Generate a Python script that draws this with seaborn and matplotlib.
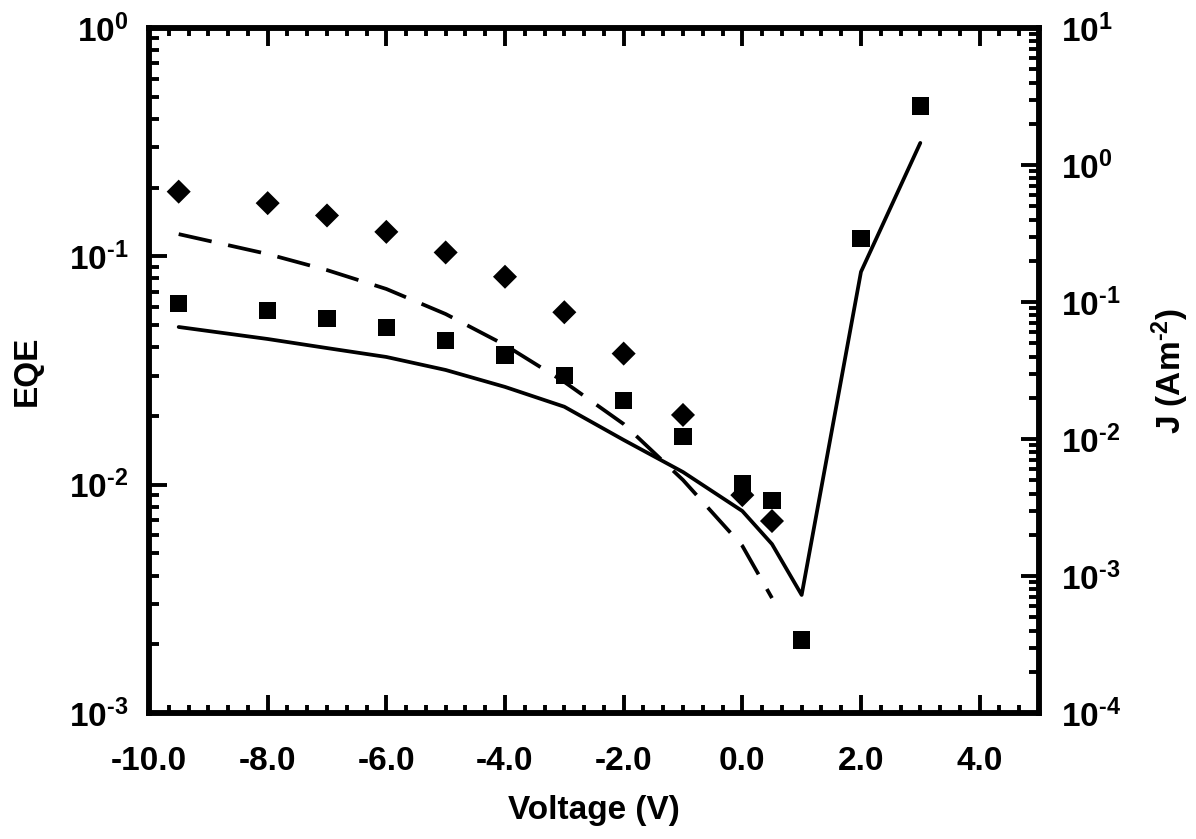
import numpy as np
import pandas as pd
import matplotlib
matplotlib.use("Agg")
import matplotlib.pyplot as plt
import matplotlib.ticker as mticker
import seaborn as sns

# ---- data ----
voltage_sq = [-9.5, -8, -7, -6, -5, -4, -3, -2, -1, 0, 0.5, 1, 2, 3]
eqe_sq = [0.0623, 0.0578, 0.0535, 0.0489, 0.0427, 0.0370, 0.0300, 0.0233,
          0.0162, 0.0101, 0.0085, 0.00209, 0.120, 0.455]

voltage_dia = [-9.5, -8, -7, -6, -5, -4, -3, -2, -1, 0, 0.5]
eqe_dia = [0.192, 0.171, 0.151, 0.128, 0.104, 0.0814, 0.0569, 0.0375,
           0.0202, 0.0090, 0.00693]

voltage_solid = [-9.5, -8, -7, -6, -5, -4, -3, -2, -1, 0, 0.5, 1, 2, 3]
j_solid = [0.0657, 0.0537, 0.0461, 0.0397, 0.0319, 0.0240, 0.0172, 0.00984,
           0.00574, 0.00298, 0.00171, 0.000727, 0.166, 1.45]

voltage_dash = [-9.5, -8, -7, -6, -5, -4, -3, -2, -1, 0, 0.5]
j_dash = [0.313, 0.224, 0.171, 0.1245, 0.0817, 0.0485, 0.0261, 0.01286,
          0.00502, 0.00166, 0.00069]

x_ticks = [-10, -8, -6, -4, -2, 0, 2, 4]

# ---- style ----
sns.set_theme(style="white")
plt.rcParams["font.family"] = ["Liberation Sans", "DejaVu Sans"]
plt.rcParams["font.weight"] = "bold"
plt.rcParams["mathtext.fontset"] = "custom"
plt.rcParams["mathtext.rm"] = "Liberation Sans:bold"
plt.rcParams["mathtext.bf"] = "Liberation Sans:bold"
plt.rcParams["mathtext.it"] = "Liberation Sans:bold"
plt.rcParams["axes.unicode_minus"] = False
plt.rcParams["text.color"] = "black"
plt.rcParams["axes.labelcolor"] = "black"
plt.rcParams["xtick.color"] = "black"
plt.rcParams["ytick.color"] = "black"

FS = 24

fig = plt.figure(figsize=(11.96, 8.39), dpi=100)
ax = fig.add_axes([0.1246, 0.1502, 0.7441, 0.8164])
ax2 = ax.twinx()

sq_df = pd.DataFrame({"V": voltage_sq, "EQE": eqe_sq})
dia_df = pd.DataFrame({"V": voltage_dia, "EQE": eqe_dia})
sol_df = pd.DataFrame({"V": voltage_solid, "J": j_solid})
dash_df = pd.DataFrame({"V": voltage_dash, "J": j_dash})

sns.scatterplot(data=sq_df, x="V", y="EQE", marker="s", s=155, color="black",
                edgecolor="none", ax=ax, zorder=3)
sns.scatterplot(data=dia_df, x="V", y="EQE", marker="D", s=150, color="black",
                edgecolor="none", ax=ax, zorder=3)

sns.lineplot(data=sol_df, x="V", y="J", color="black", lw=2.7, ax=ax2,
             sort=False, estimator=None)
sns.lineplot(data=dash_df, x="V", y="J", color="black", lw=2.7, ax=ax2,
             sort=False, estimator=None, linestyle=(0, (9, 4.5)))

for a in (ax, ax2):
    a.set_yscale("log")
    a.set_xlim(-10, 5)
    for s in a.spines.values():
        s.set_linewidth(4)
        s.set_color("black")
        s.set_visible(True)

ax.set_ylim(1e-3, 1e0)
ax2.set_ylim(1e-4, 1e1)

def pow_fmt(v, pos):
    e = int(round(np.log10(v)))
    if e < 0:
        return r"$\mathbf{10}^{\mathbf{\text{-}%d}}$" % (-e)
    return r"$\mathbf{10}^{\mathbf{%d}}$" % e

for a in (ax, ax2):
    a.yaxis.set_major_locator(mticker.LogLocator(base=10, numticks=10))
    a.yaxis.set_minor_locator(mticker.LogLocator(base=10, subs=np.arange(2, 10), numticks=10))
    a.yaxis.set_major_formatter(mticker.FuncFormatter(pow_fmt))
    a.yaxis.set_minor_formatter(mticker.NullFormatter())

ax.xaxis.set_major_locator(mticker.FixedLocator(x_ticks))
ax.xaxis.set_minor_locator(mticker.AutoMinorLocator(6))
ax.xaxis.set_major_formatter(mticker.FormatStrFormatter("%.1f"))

ax.tick_params(axis="x", which="both", direction="in", top=True, bottom=True,
               width=2.8, colors="black")
ax.tick_params(axis="x", which="major", length=13, pad=24, labelsize=FS)
ax.tick_params(axis="x", which="minor", length=6)
ax.tick_params(axis="y", which="both", direction="in", left=True, right=False,
               width=2.8, colors="black")
ax.tick_params(axis="y", which="major", length=13, pad=15, labelsize=FS)
ax.tick_params(axis="y", which="minor", length=7)

ax2.tick_params(axis="y", which="both", direction="in", right=True, left=False,
                width=2.8, colors="black")
ax2.tick_params(axis="y", which="major", length=13, pad=16, labelsize=FS)
ax2.tick_params(axis="y", which="minor", length=7)
ax2.tick_params(axis="x", which="both", bottom=False, top=False)

for lab in ax.get_xticklabels():
    lab.set_fontweight("bold")

ax.set_xlabel("Voltage (V)", fontsize=FS, fontweight="bold", color="black")
ax.set_ylabel("EQE", fontsize=FS, fontweight="bold", color="black")
ax2.set_ylabel(r"J (Am$^{\text{-}2}$)", fontsize=FS, fontweight="bold", color="black")
ax.xaxis.set_label_coords(0.5, -0.12)
ax.yaxis.set_label_coords(-0.119, 0.5)
ax2.yaxis.set_label_coords(1.124, 0.5)

ax.grid(False)
ax2.grid(False)
ax.set_facecolor("white")
fig.patch.set_facecolor("white")

fig.savefig("out.png", dpi=100)
